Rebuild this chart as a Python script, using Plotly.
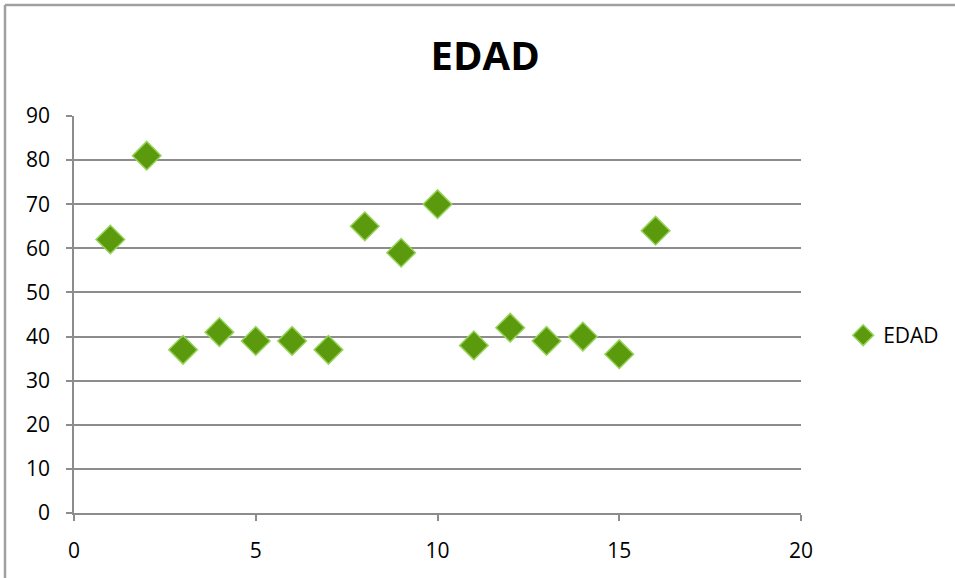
import plotly.graph_objects as go

x_vals = [1, 2, 3, 4, 5, 6, 7, 8, 9, 10, 11, 12, 13, 14, 15, 16]
edad = [62, 81, 37, 41, 39, 39, 37, 65, 59, 70, 38, 42, 39, 40, 36, 64]
series_name = "EDAD"
title_text = "EDAD"

fig = go.Figure()
fig.add_trace(go.Scatter(
    x=x_vals, y=edad, mode="markers", name=series_name,
    marker=dict(symbol="diamond", size=22, color="#5b9a0c",
                line=dict(color="#96d35a", width=1.5)),
))

font = "Open Sans, Liberation Sans, sans-serif"
W, H = 955, 578
border = dict(color="#a0a0a0", width=2.5)
fig.update_layout(
    width=W, height=H,
    paper_bgcolor="white", plot_bgcolor="white",
    margin=dict(l=74, r=154, t=116, b=65, autoexpand=False),
    title=dict(text=title_text, x=0.508, xanchor="center", y=0.903, yanchor="middle",
               font=dict(family=font, size=40, color="black", weight="bold")),
    showlegend=True,
    legend=dict(x=1.058, y=0.447, xanchor="left", yanchor="middle",
                font=dict(family=font, size=21, color="black"),
                bgcolor="rgba(0,0,0,0)"),
    xaxis=dict(range=[0, 20], dtick=5, showgrid=False, zeroline=False,
               showline=True, linecolor="#8c8c8c", linewidth=1.5,
               ticks="outside", ticklen=6, tickcolor="#8c8c8c", tickwidth=1.5,
               ticklabelstandoff=12, automargin=False,
               tickfont=dict(family=font, size=21, color="black")),
    yaxis=dict(range=[0, 90], dtick=10, showgrid=True, gridcolor="#8c8c8c", gridwidth=1.5,
               zeroline=False, showline=True, linecolor="#8c8c8c", linewidth=1.5,
               ticks="outside", ticklen=6, tickcolor="#8c8c8c", tickwidth=1.5,
               ticklabelstandoff=12, automargin=False,
               tickfont=dict(family=font, size=21, color="black")),
    shapes=[
        dict(type="line", xref="paper", yref="paper", x0=-0.0949, x1=-0.0949, y0=-0.5, y1=1.2796,
             line=border, layer="below"),
        dict(type="line", xref="paper", yref="paper", x0=-0.0949, x1=1.5, y0=1.2796, y1=1.2796,
             line=border, layer="below"),
    ],
)
fig.write_html("out.html", config={"displayModeBar": False},
               post_script="document.body.style.margin='0';")
